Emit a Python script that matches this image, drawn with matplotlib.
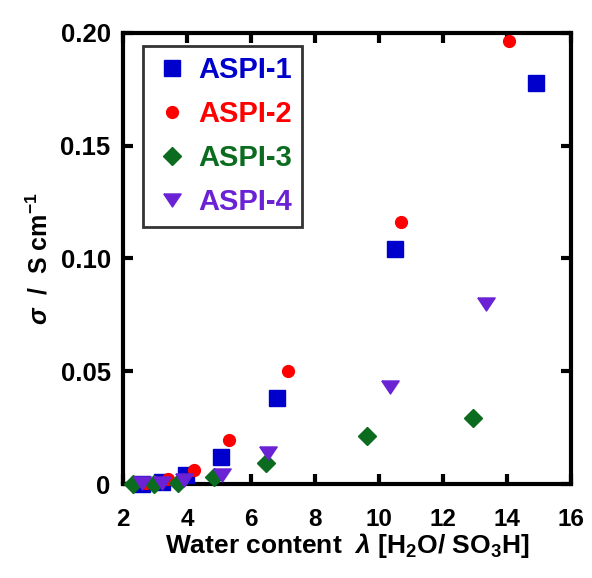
import matplotlib
matplotlib.use("Agg")
import matplotlib.pyplot as plt
from matplotlib.ticker import FuncFormatter

plt.rcParams['font.family'] = ['Liberation Sans', 'DejaVu Sans']
plt.rcParams['font.weight'] = 'bold'
plt.rcParams['axes.labelweight'] = 'bold'
plt.rcParams['mathtext.fontset'] = 'custom'
plt.rcParams['mathtext.rm'] = 'Liberation Sans:bold'
plt.rcParams['mathtext.it'] = 'Liberation Sans:bold:italic'
plt.rcParams['mathtext.bf'] = 'Liberation Sans:bold'

# water content (lambda) and conductivity (S/cm)
lam_1 = [2.6, 3.2, 3.96, 5.05, 6.81, 10.49, 14.9]
sig_1 = [0.0, 0.001, 0.004, 0.012, 0.038, 0.104, 0.178]

lam_2 = [2.7, 3.39, 4.22, 5.31, 7.16, 10.69, 14.06]
sig_2 = [0.0005, 0.0022, 0.0062, 0.0195, 0.050, 0.116, 0.1966]

lam_3 = [2.3, 2.97, 3.7, 4.84, 6.46, 9.61, 12.95]
sig_3 = [0.0, 0.0, 0.0003, 0.0032, 0.0092, 0.0213, 0.0294]

lam_4 = [2.6, 3.23, 3.9, 5.1, 6.54, 10.35, 13.35]
sig_4 = [0.0003, 0.0006, 0.0018, 0.004, 0.0136, 0.0431, 0.080]

names = ['ASPI-1', 'ASPI-2', 'ASPI-3', 'ASPI-4']
x_ticks = [2, 4, 6, 8, 10, 12, 14, 16]
y_ticks = [0, 0.05, 0.10, 0.15, 0.20]

# a flattened downward triangle, like the one in the original
tri_down = [(-1, 0.75), (1, 0.75), (0, -0.75), (-1, 0.75)]

fig = plt.figure(figsize=(5.92, 5.78), dpi=100)
ax = fig.add_axes([0.208, 0.1626, 0.7565, 0.7804])

series = [(lam_1, sig_1, 's', 12, '#0000cc'),
          (lam_2, sig_2, 'o', 8.5, '#ff0000'),
          (lam_3, sig_3, 'D', 9.5, '#0b6b1f'),
          (lam_4, sig_4, tri_down, 12.5, '#6a22d4')]

for (x, y, m, ms, c), name in zip(series, names):
    ax.plot(x, y, linestyle='none', marker=m, markersize=ms, color=c,
            markeredgewidth=1.0, label=name, clip_on=False, zorder=5)

ax.set_xlim(2, 16)
ax.set_ylim(0, 0.2)
ax.set_xticks(x_ticks)
ax.set_yticks(y_ticks)
ax.yaxis.set_major_formatter(FuncFormatter(lambda v, p: '0' if v == 0 else '%.2f' % v))

for s in ax.spines.values():
    s.set_linewidth(3)
ax.tick_params(direction='in', length=7, width=3, top=True, right=True)
ax.tick_params(axis='x', labelsize=17.5, pad=17)
ax.tick_params(axis='y', labelsize=18.5, pad=9)

ax.set_xlabel(r'Water content  $\lambda$ [H$_2$O/ SO$_3$H]', fontsize=19, labelpad=0)
ax.set_ylabel(r'$\sigma$  /  S cm$^{-1}$', fontsize=18, labelpad=6)

leg = ax.legend(loc='upper left', bbox_to_anchor=(0.044, 0.971), fontsize=21,
                frameon=True, fancybox=False, edgecolor='black', borderpad=0.35,
                labelspacing=0.55, handletextpad=0.25, handlelength=1.3,
                borderaxespad=0)
leg.get_frame().set_linewidth(2)
for t, sr in zip(leg.get_texts(), series):
    t.set_color(sr[4])

fig.savefig('out.png', dpi=100)
